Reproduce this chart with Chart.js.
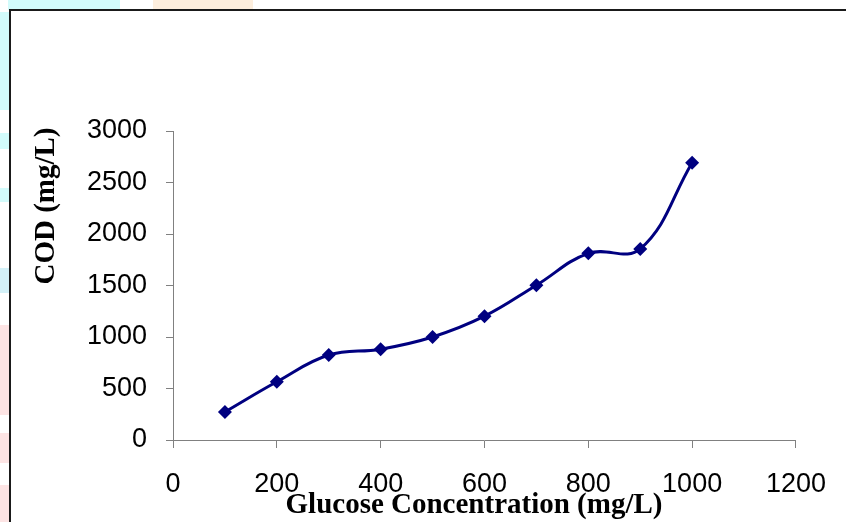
<!DOCTYPE html>
<html>
<head>
<meta charset="utf-8">
<script src="https://cdn.jsdelivr.net/npm/chart.js@4"></script>
<style>
    html, body { margin: 0; padding: 0; background: #fff; }
    #wrap { position: relative; width: 846px; height: 522px; overflow: hidden; }
    .blob { position: absolute; }
    #frame { position: absolute; left: 9px; top: 9px; width: 900px; height: 600px;
             border-left: 2px solid #1a1a1a; border-top: 2px solid #1a1a1a; background: #fff; }
    #chart-box { position: absolute; left: 0; top: 0; width: 846px; height: 522px; }
</style>
</head>
<body>
<div id="wrap">
    <div class="blob" style="left:8px;top:0;width:112px;height:10px;background:#d2fbfb;"></div>
    <div class="blob" style="left:153px;top:0;width:100px;height:10px;background:#fdeedd;"></div>
    <div class="blob" style="left:0;top:12px;width:9px;height:98px;background:#d2fbfb;"></div>
    <div class="blob" style="left:0;top:133px;width:9px;height:16px;background:#d2fbfb;"></div>
    <div class="blob" style="left:0;top:188px;width:9px;height:14px;background:#d2fbfb;"></div>
    <div class="blob" style="left:0;top:268px;width:9px;height:25px;background:#d3f1f8;"></div>
    <div class="blob" style="left:0;top:325px;width:9px;height:90px;background:#fde4e4;"></div>
    <div class="blob" style="left:0;top:433px;width:9px;height:30px;background:#fde4e4;"></div>
    <div class="blob" style="left:0;top:485px;width:9px;height:37px;background:#fde4e4;"></div>
    <div id="frame"></div>
    <div id="chart-box"><canvas id="cod-graph" width="846" height="522"></canvas></div>
</div>
<script>
const glucose = [100, 200, 300, 400, 500, 600, 700, 800, 900, 1000];
const cod = [272, 565, 825, 882, 1000, 1202, 1503, 1812, 1855, 2692];
const xTicks = [0, 200, 400, 600, 800, 1000, 1200];
const yTicks = [0, 500, 1000, 1500, 2000, 2500, 3000];

const xTitle = 'Glucose Concentration (mg/L)';
const yTitle = 'COD (mg/L)';

// axis titles drawn by hand so they sit where Excel put them
const titlesPlugin = {
    id: 'titles',
    afterDraw(chart) {
        const ctx = chart.ctx;
        ctx.save();
        ctx.fillStyle = '#000';
        ctx.font = 'bold 29px "Liberation Serif", "Times New Roman", serif';
        ctx.textAlign = 'center';
        ctx.textBaseline = 'middle';
        ctx.fillText(xTitle, 474, 506);
        ctx.translate(47, 206);
        ctx.rotate(-Math.PI / 2);
        ctx.fillText(yTitle, 0, 0);
        ctx.restore();
    }
};

const axisColor = '#808080';
const tickFont = { family: '"Liberation Sans", Arial, sans-serif', size: 27 };
function plain(value) { return String(value); }

new Chart(document.getElementById('cod-graph'), {
    type: 'scatter',
    data: {
        datasets: [{
            data: glucose.map(function(g, i) { return { x: g, y: cod[i] }; }),
            showLine: true,
            borderColor: '#000080',
            backgroundColor: '#000080',
            borderWidth: 3,
            tension: 0.4,
            pointStyle: 'rectRot',
            pointRadius: 7,
            pointBorderWidth: 0,
        }]
    },
    options: {
        responsive: false,
        animation: false,
        devicePixelRatio: 1,
        layout: { padding: { left: 0, top: 131, right: 50, bottom: 0 } },
        plugins: {
            legend: { display: false },
            tooltip: { enabled: false }
        },
        scales: {
            x: {
                type: 'linear',
                min: 0,
                max: 1200,
                afterBuildTicks: function(scale) {
                    scale.ticks = xTicks.map(function(v) { return { value: v }; });
                },
                afterFit: function(scale) { scale.height = 82; },
                grid: { drawOnChartArea: false, drawTicks: true, tickLength: 8, color: axisColor, lineWidth: 1 },
                border: { display: true, color: axisColor, width: 1 },
                ticks: { color: '#000', font: tickFont, padding: 20, maxRotation: 0, callback: plain }
            },
            y: {
                type: 'linear',
                min: 0,
                max: 3000,
                afterBuildTicks: function(scale) {
                    scale.ticks = yTicks.map(function(v) { return { value: v }; });
                },
                afterFit: function(scale) { scale.width = 173; },
                grid: { drawOnChartArea: false, drawTicks: true, tickLength: 7, color: axisColor, lineWidth: 1 },
                border: { display: true, color: axisColor, width: 1 },
                ticks: { color: '#000', font: tickFont, padding: 19, callback: plain }
            }
        }
    },
    plugins: [titlesPlugin]
});
</script>
</body>
</html>
